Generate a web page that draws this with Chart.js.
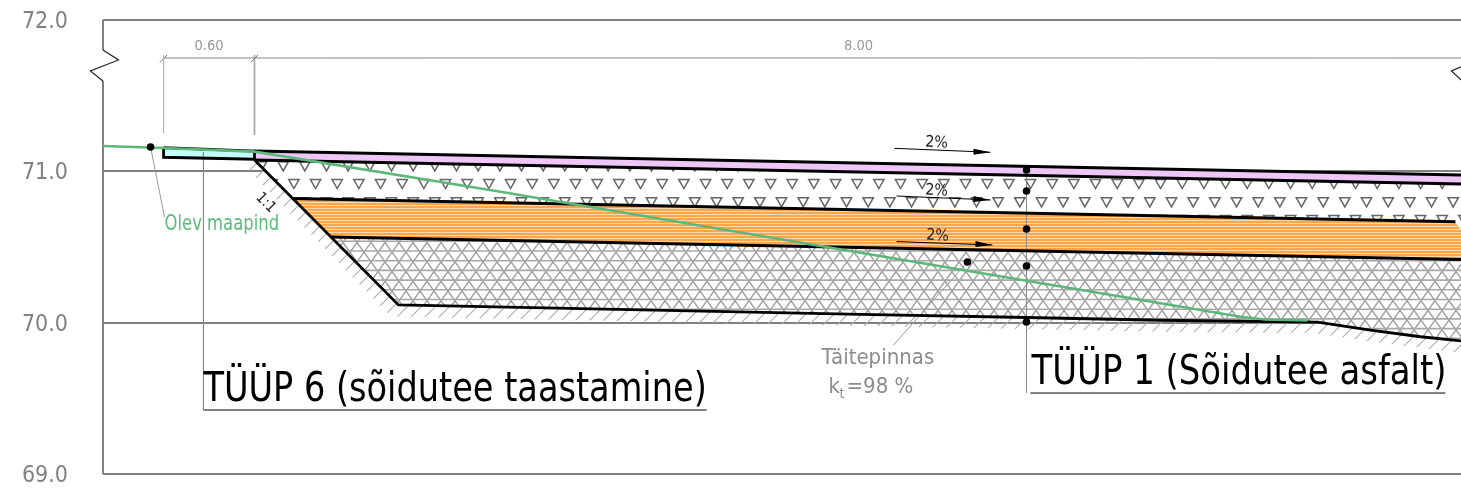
<!DOCTYPE html>
<html><head><meta charset="utf-8">
<style>html,body{margin:0;padding:0;background:#fff;overflow:hidden}canvas{display:block}</style>
<script src="https://cdn.jsdelivr.net/npm/chart.js@4"></script>
</head><body><canvas id="c" width="1461" height="490"></canvas>
<script>
const yTicks=[69,70,71,72];
const xRange=[-1,7.964];
const shoulderX=[-0.6,0,0,-0.6,-0.6], shoulderY=[71.156,71.134,71.08,71.093,71.156];
const surfaceX=[0,7.964], surfaceY=[71.134,70.975];
const surfaceBaseX=[0,7.964], surfaceBaseY=[71.075,70.916];
const stoneX=[0,7.964,7.964,7.927,0.257,0], stoneY=[71.075,70.916,70.612,70.667,70.82,71.075];
const orangeX=[0.257,7.927,7.964,7.964,0.508,0.257], orangeY=[70.82,70.667,70.612,70.417,70.566,70.82];
const orangeTopX=[0.257,7.927], orangeTopY=[70.82,70.667];
const orangeBaseX=[0.508,7.964], orangeBaseY=[70.566,70.417];
const baseX=[0.508,7.964,7.964,7.697,7.366,7.017,5.98,5.096,4.0,0.95,0.508];
const baseY=[70.566,70.417,69.879,69.907,69.951,70.004,70.016,70.034,70.055,70.117,70.566];
const formationX=[0,0.95,4.0,5.096,5.98,7.017,7.366,7.697,7.964];
const formationY=[71.075,70.117,70.055,70.034,70.016,70.004,69.951,69.907,69.879];
const groundBandX=[0,0.95,4.0,5.98,7.017,7.366,7.697,7.964,7.964,7.4,7.0,5.98,0.9,-0.06,0];
const groundBandY=[71.075,70.117,70.055,70.016,70.004,69.951,69.907,69.879,69.80,69.87,69.93,69.94,70.04,71.03,71.075];
const existingX=[-1,-0.6,0,1.624,4.0,5.096,5.98,6.508,6.673,6.95];
const existingY=[71.167,71.154,71.13,70.865,70.462,70.277,70.128,70.039,70.021,70.014];
const dotX=[-0.686,5.096,5.096,5.096,5.096,5.096,4.706];
const dotY=[71.161,71.009,70.87,70.619,70.374,70.004,70.401];
const axisUpperX=[-1,-1], axisUpperY=[72,71.802];
const axisLowerX=[-1,-1], axisLowerY=[71.597,69];
const breakLeftX=[-1,-0.898,-1.083,-1], breakLeftY=[71.802,71.736,71.663,71.597];
const breakRightX=[7.964,7.901,7.964], breakRightY=[71.691,71.663,71.604];
const dimX=[-0.6,7.964], dimY=[71.749,71.749];
const dimTickAX=[-0.624,-0.576], dimTickAY=[71.72,71.77];
const dimTickBX=[-0.024,0.024], dimTickBY=[71.72,71.77];
const extAX=[-0.6,-0.6], extAY=[71.769,71.253];
const extBX=[0,0], extBY=[71.769,71.24];
const type6X=[-0.337,-0.337], type6Y=[71.128,69.423];
const type1X=[5.096,5.096], type1Y=[71.009,69.535];
const under6X=[-0.337,2.984], under6Y=[69.423,69.423];
const under1X=[5.122,7.861], under1Y=[69.535,69.535];
const leaderAX=[-0.686,-0.594], leaderAY=[71.161,70.698];
const leaderBX=[4.706,4.218], leaderBY=[70.401,69.852];
const arrowLines=[[[4.224,4.858],[71.152,71.126]],[[4.238,4.858],[70.837,70.811]],[[4.238,4.871],[70.536,70.513]]];
const arrowHeads=[[[4.746,4.858,4.746],[71.15,71.126,71.11]],[[4.746,4.858,4.746],[70.837,70.811,70.797]],[[4.759,4.871,4.759],[70.54,70.513,70.5]]];
const labelTexts=["0.60","8.00","Olev maapind","1:1","2%","2%","2%","Täitepinnas","k","t","=98 %","TÜÜP 6 (sõidutee taastamine)","TÜÜP 1 (Sõidutee asfalt)"];
const labelX=[-0.3,3.987,-0.594,0.073,4.502,4.502,4.509,3.743,3.789,3.861,3.908,-0.337,5.129];
const labelY=[71.829,71.829,70.646,70.791,71.188,70.871,70.573,69.767,69.575,69.529,69.575,69.552,69.664];

const FONT='"DejaVu Sans Condensed","DejaVu Sans",sans-serif';
const labelStyle=[
 {size:14.5,color:'#999',align:'center'},{size:14.5,color:'#999',align:'center'},
 {size:21.5,color:'#5dbb7a',align:'left',sx:.85},{size:15,color:'#222',align:'center',rot:45},
 {size:16,color:'#222',align:'center',rot:3},{size:16,color:'#222',align:'center',rot:3},{size:16,color:'#222',align:'center',rot:3},
 {size:22,color:'#8c8c8c',align:'left'},{size:22,color:'#8c8c8c',align:'left'},{size:14,color:'#8c8c8c',align:'left'},{size:22,color:'#8c8c8c',align:'left'},
 {size:41,color:'#000',align:'left',sx:.91},{size:41,color:'#000',align:'left',sx:.92}];

function tile(w,h,draw){const c=document.createElement('canvas');c.width=w;c.height=h;const g=c.getContext('2d');draw(g,w,h);return document.createElement('canvas').getContext('2d').createPattern(c,'repeat');}
const orangeFill=tile(4,3,(g,w,h)=>{g.fillStyle='#ffa64d';g.fillRect(0,0,w,h);g.fillStyle='#ffd9a8';g.fillRect(0,1,w,1);});
const stoneFill=tile(65,36,(g)=>{g.fillStyle='#fff';g.fillRect(0,0,65,36);g.strokeStyle='#666';g.lineWidth=1.5;
 const rows=[[4,12.2],[22.3,1.5]];
 rows.forEach(([cy,ox])=>{for(let k=-1;k<=1;k++)for(let i=-1;i<=3;i++){const x=ox+i*21.67,y=cy+k*36;g.beginPath();g.moveTo(x-5.2,y-4.6);g.lineTo(x+5.2,y-4.6);g.lineTo(x,y+4.6);g.closePath();g.stroke();}});});
const latticeFill=tile(70,97,(g)=>{g.fillStyle='#fff';g.fillRect(0,0,70,97);
 const dy=9.7,dx=14;
 g.strokeStyle='#a0a0a0';g.lineWidth=1.4;
 for(let i=-10;i<16;i++){g.beginPath();g.moveTo(i*dx,0);g.lineTo(i*dx+97/dy*dx/2,97);g.stroke();g.beginPath();g.moveTo(i*dx,0);g.lineTo(i*dx-97/dy*dx/2,97);g.stroke();}
 g.strokeStyle='#a8a8a8';g.lineWidth=1.6;
 for(let r=0;r<10;r++){const y=r*dy+8.5;g.beginPath();g.moveTo(0,y);g.lineTo(70,y);g.stroke();}});
const groundFill=tile(14,14,(g)=>{g.strokeStyle='#adadad';g.lineWidth=1.1;g.beginPath();g.moveTo(-2,16);g.lineTo(16,-2);g.moveTo(-16,16);g.lineTo(2,-2);g.moveTo(12,16);g.lineTo(30,-2);g.stroke();});

function path(xs,ys){return xs.map((x,i)=>({x,y:ys[i]}));}
function stroke(xs,ys,color,w){return {data:path(xs,ys),showLine:true,pointRadius:0,borderColor:color,borderWidth:w,fill:false,tension:0,clip:false,borderCapStyle:'butt'};}
function area(xs,ys,paint){return {data:path(xs,ys),showLine:true,pointRadius:0,borderWidth:0,borderColor:'transparent',backgroundColor:paint,fill:'shape',tension:0};}

const layers=[
 stroke(axisUpperX,axisUpperY,'#808080',2),
 stroke(axisLowerX,axisLowerY,'#808080',2),
 stroke(breakLeftX,breakLeftY,'#222',1.2),
 stroke(breakRightX,breakRightY,'#222',1.2),
 stroke(dimX,dimY,'#888',1),
 stroke(dimTickAX,dimTickAY,'#777',1),
 stroke(dimTickBX,dimTickBY,'#777',1),
 stroke(extAX,extAY,'#b5b5b5',1),
 stroke(extBX,extBY,'#a0a0a0',1.6),
 area(groundBandX,groundBandY,groundFill),
 area(baseX,baseY,latticeFill),
 area(orangeX,orangeY,orangeFill),
 area(stoneX,stoneY,stoneFill),
 area(surfaceX.concat(surfaceBaseX.slice().reverse()),surfaceY.concat(surfaceBaseY.slice().reverse()),'#eec6f8'),
 area(shoulderX,shoulderY,'#c4fbfb'),
 stroke(type6X,type6Y,'#8a8a8a',1),
 stroke(type1X,type1Y,'#8a8a8a',1),
 stroke(leaderAX,leaderAY,'#999',1),
 stroke(leaderBX,leaderBY,'#999',1),
 stroke(surfaceBaseX,surfaceBaseY,'#000',3),
 stroke(surfaceX,surfaceY,'#000',3),
 stroke(orangeTopX,orangeTopY,'#000',3),
 stroke(orangeBaseX,orangeBaseY,'#000',3),
 stroke(formationX,formationY,'#000',2.8),
 stroke(shoulderX,shoulderY,'#000',2.8),
 stroke(existingX,existingY,'#5cb878',2.6),
 {data:path(dotX,dotY),showLine:false,pointRadius:3.8,pointBackgroundColor:'#000',pointBorderWidth:0}
];
arrowLines.forEach(([a,b])=>layers.push(stroke(a,b,'#000',1)));
arrowHeads.forEach(([a,b])=>layers.push(Object.assign(area(a.concat(a[0]),b.concat(b[0]),'#000'),{clip:false})));
layers.push(stroke(under6X,under6Y,'#000',1));
layers.push(stroke(under1X,under1Y,'#000',1));
const datasets=layers.map((d,i)=>Object.assign(d,{order:layers.length-i}));

const textLayer={id:'textLayer',afterDatasetsDraw(ch){const g=ch.ctx,sx=ch.scales.x,sy=ch.scales.y;
 labelTexts.forEach((t,i)=>{const s=labelStyle[i];g.save();g.translate(sx.getPixelForValue(labelX[i]),sy.getPixelForValue(labelY[i]));
  if(s.rot)g.rotate(s.rot*Math.PI/180);if(s.sx)g.scale(s.sx,1);g.font=s.size+'px '+FONT;g.fillStyle=s.color;g.textAlign=s.align;g.textBaseline='middle';g.fillText(t,0,0);g.restore();});}};

new Chart(document.getElementById('c'),{type:'scatter',data:{datasets},plugins:[textLayer],options:{
 responsive:false,animation:false,events:[],
 layout:{autoPadding:false,padding:{top:20,bottom:16,left:0,right:0}},
 plugins:{legend:{display:false},tooltip:{enabled:false},title:{display:false}},
 scales:{
  x:{type:'linear',display:false,min:xRange[0],max:xRange[1]},
  y:{type:'linear',min:69,max:72,afterFit(s){s.width=103;s.paddingTop=0;s.paddingBottom=0;s.paddingLeft=0;s.paddingRight=0;},
   afterBuildTicks(s){s.ticks=yTicks.map(v=>({value:v}));},
   border:{display:false},
   grid:{color:'#808080',lineWidth:2,drawTicks:false},
   ticks:{padding:35,labelOffset:2,color:'#808080',font:{family:FONT,size:23},callback:v=>v.toFixed(1)}}
 }}});
</script></body></html>
